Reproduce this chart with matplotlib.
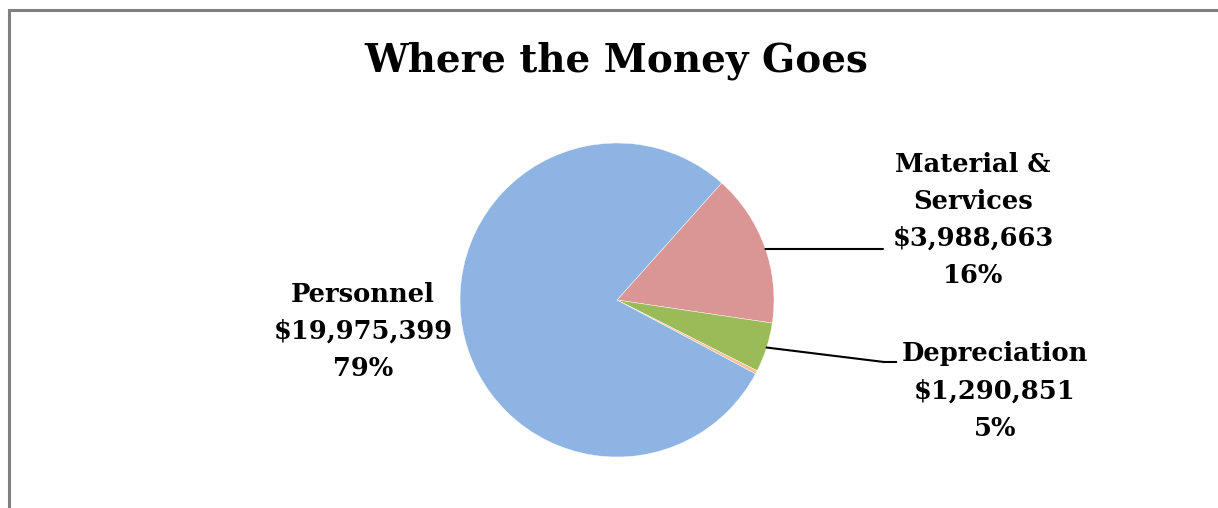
import numpy as np
import matplotlib.pyplot as plt
from matplotlib.lines import Line2D

# slices in clockwise order starting from the upper right
categories = ['Material &\nServices', 'Depreciation', 'Other', 'Personnel']
amounts = [3988663, 1290851, 90000, 19975399]
pct_labels = ['16%', '5%', '', '79%']
slice_colors = ['#D99694', '#9BBB59', '#FAC090', '#8EB4E3']

W, H = 1218, 508
fig = plt.figure(figsize=(W / 100, H / 100), dpi=100)
font = dict(family=['DejaVu Serif'], weight='bold')

# chart border (top and left visible)
fig.add_artist(Line2D([8.5 / W, 8.5 / W], [0, 1 - 9.5 / H], color='#808080', lw=2.2,
                      transform=fig.transFigure))
fig.add_artist(Line2D([8.5 / W, 1], [1 - 9.5 / H, 1 - 9.5 / H], color='#808080', lw=2.2,
                      transform=fig.transFigure))

fig.text(616 / W, 1 - 61 / H, 'Where the Money Goes', ha='center', va='center',
         fontsize=28, **font)

cx, cy, r = 617, H - 300, 157
ax = fig.add_axes([(cx - r) / W, (cy - r) / H, 2 * r / W, 2 * r / H])
wedges, _ = ax.pie(amounts, colors=slice_colors, startangle=48.2, counterclock=False,
                   radius=1, wedgeprops=dict(edgecolor='white', linewidth=0.3))
ax.set_xlim(-1, 1)
ax.set_ylim(-1, 1)
ax.set_aspect('equal')
ax.axis('off')


def edge_point(w, frac):
    a = np.deg2rad(w.theta1 + (w.theta2 - w.theta1) * frac)
    return np.cos(a), np.sin(a)


def label_text(i):
    return '%s\n$%s\n%s' % (categories[i], format(amounts[i], ','), pct_labels[i])


lab = dict(fontsize=18.5, linespacing=1.6, ha='center', va='center', **font)

# Material & Services: horizontal leader
ly = ((H - 249) - cy) / r
ax.annotate('', xy=(np.sqrt(1 - ly ** 2), ly), xytext=(883, H - 249),
            textcoords='figure pixels',
            arrowprops=dict(arrowstyle='-', color='black', lw=1.5, shrinkA=0, shrinkB=0))
fig.text(973 / W, 1 - 220 / H, label_text(0), **lab)

# Depreciation
x1, y1 = edge_point(wedges[1], 0.5)
ax.annotate('', xy=(x1, y1), xytext=(884, H - 362), textcoords='figure pixels',
            arrowprops=dict(arrowstyle='-', color='black', lw=1.5, shrinkA=0, shrinkB=0))
fig.add_artist(Line2D([884 / W, 896 / W], [1 - 362 / H, 1 - 362 / H], color='black', lw=1.5,
                      transform=fig.transFigure))
fig.text(995 / W, 1 - 391 / H, label_text(1), **lab)

# Personnel
fig.text(363 / W, 1 - 331 / H, label_text(3), **lab)

fig.savefig('out.png', dpi=100)
